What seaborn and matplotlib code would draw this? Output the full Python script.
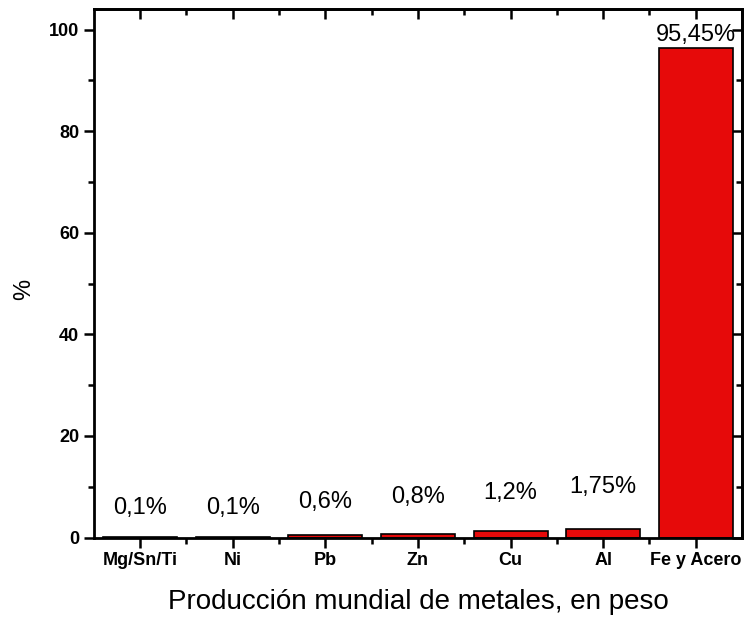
import matplotlib
matplotlib.use('Agg')
import matplotlib.pyplot as plt
from matplotlib.ticker import MultipleLocator, FixedLocator
import pandas as pd
import seaborn as sns

# datos
metales = ['Mg/Sn/Ti', 'Ni', 'Pb', 'Zn', 'Cu', 'Al', 'Fe y Acero']
porcentaje = [0.1, 0.1, 0.5, 0.75, 1.3, 1.65, 96.3]
etiquetas = ['0,1%', '0,1%', '0,6%', '0,8%', '1,2%', '1,75%', '95,45%']

df = pd.DataFrame({'metal': metales, 'pct': porcentaje})

sns.set_style('ticks')
plt.rcParams['font.family'] = ['Liberation Sans', 'DejaVu Sans']
for k in ['text.color', 'axes.labelcolor', 'xtick.color', 'ytick.color', 'axes.edgecolor']:
    plt.rcParams[k] = 'black'

fig = plt.figure(figsize=(7.45, 6.25), dpi=100)
ax = fig.add_axes([0.126, 0.14, 0.87, 0.845])

sns.barplot(data=df, x='metal', y='pct', color='#e60a0a', saturation=1,
            width=0.8, edgecolor='black', linewidth=1.2, ax=ax)

# altura de las etiquetas (en unidades de datos)
label_y = [5.8, 5.8, 7.0, 8.0, 8.8, 9.9, 99.0]
for i, (t, yy) in enumerate(zip(etiquetas, label_y)):
    ax.text(i, yy, t, ha='center', va='center', fontsize=17)

ax.set_xlim(-0.5, 6.5)
ax.set_ylim(0, 104)
ax.yaxis.set_major_locator(MultipleLocator(20))
ax.yaxis.set_minor_locator(MultipleLocator(10))
ax.xaxis.set_minor_locator(FixedLocator([i + 0.5 for i in range(6)]))

for s in ax.spines.values():
    s.set_visible(True)
    s.set_linewidth(2)

ax.tick_params(which='major', length=7, width=1.8, labelsize=13)
ax.tick_params(which='minor', length=4, width=1.8)
for lbl in ax.get_xticklabels() + ax.get_yticklabels():
    lbl.set_fontweight('bold')

# ticks interiores arriba y a la derecha
ax2 = ax.secondary_xaxis('top')
ax2.set_xticks(range(7))
ax2.xaxis.set_minor_locator(FixedLocator([i + 0.5 for i in range(6)]))
ax2.tick_params(which='major', direction='in', length=7, width=1.8, labeltop=False)
ax2.tick_params(which='minor', direction='in', length=4, width=1.8)
ax2.spines['top'].set_linewidth(2)
ax3 = ax.secondary_yaxis('right')
ax3.yaxis.set_major_locator(MultipleLocator(20))
ax3.yaxis.set_minor_locator(MultipleLocator(10))
ax3.tick_params(which='major', direction='in', length=7, width=1.8, labelright=False)
ax3.tick_params(which='minor', direction='in', length=4, width=1.8)
ax3.spines['right'].set_linewidth(2)
ax.tick_params(which='both', top=False, right=False)

ax.set_xlabel('Producción mundial de metales, en peso', fontsize=20, labelpad=14)
ax.set_ylabel('%', fontsize=17)
ax.yaxis.set_label_coords(-0.09, 0.47)

fig.savefig('out.png', dpi=100)
